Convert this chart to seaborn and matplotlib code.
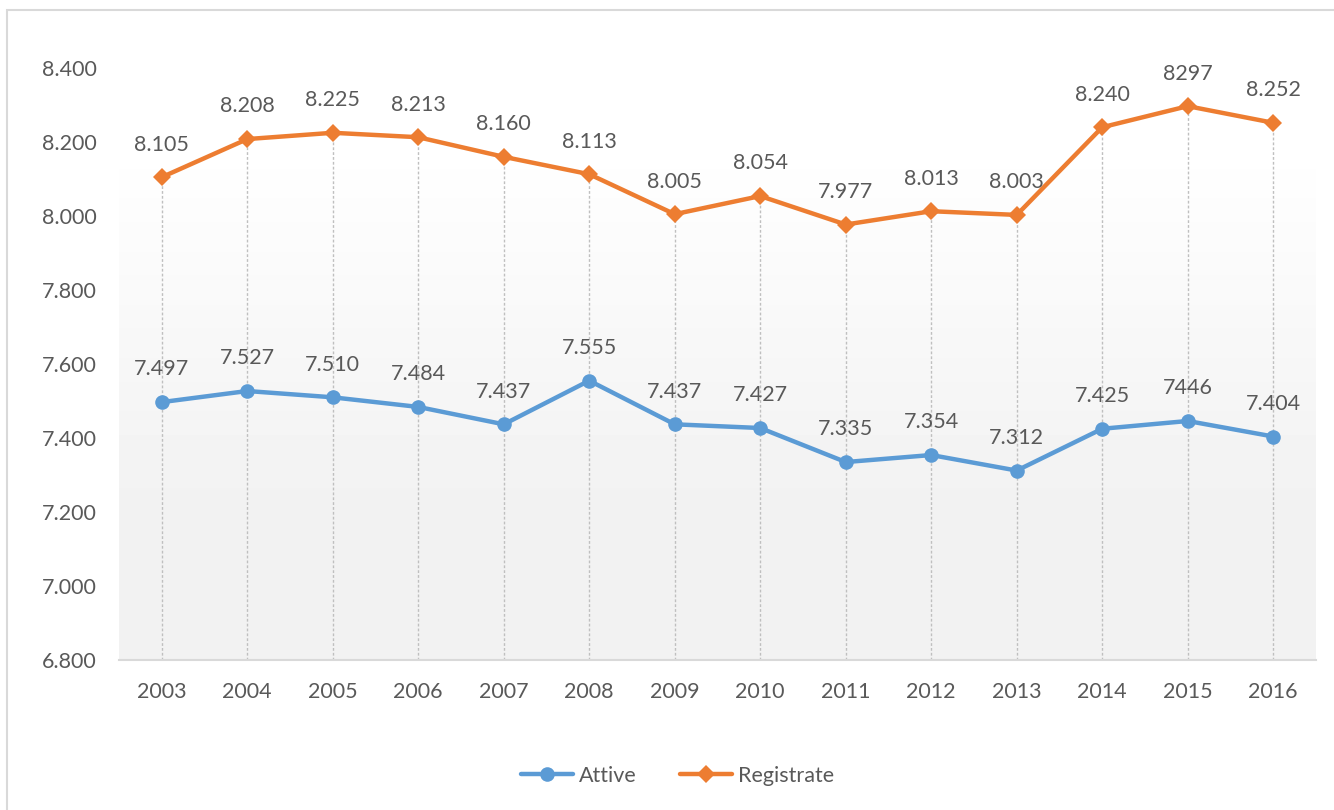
import numpy as np
import pandas as pd
import matplotlib
matplotlib.use("Agg")
import matplotlib.pyplot as plt
from matplotlib.patches import Rectangle
import seaborn as sns

# DATA
years = [2003, 2004, 2005, 2006, 2007, 2008, 2009, 2010, 2011, 2012, 2013, 2014, 2015, 2016]
attive = [7497, 7527, 7510, 7484, 7437, 7555, 7437, 7427, 7335, 7354, 7312, 7425, 7446, 7404]
registrate = [8105, 8208, 8225, 8213, 8160, 8113, 8005, 8054, 7977, 8013, 8003, 8240, 8297, 8252]
attive_labels = ["7.497", "7.527", "7.510", "7.484", "7.437", "7.555", "7.437", "7.427",
                 "7.335", "7.354", "7.312", "7.425", "7446", "7.404"]
registrate_labels = ["8.105", "8.208", "8.225", "8.213", "8.160", "8.113", "8.005", "8.054",
                     "7.977", "8.013", "8.003", "8.240", "8297", "8.252"]
y_ticks = [6800, 7000, 7200, 7400, 7600, 7800, 8000, 8200, 8400]

df = pd.DataFrame({"Anno": years, "Attive": attive, "Registrate": registrate})

sns.set_style("white")
plt.rcParams['font.family'] = ['Lato', 'DejaVu Sans']
text_col = "#595959"
blue = "#5B9BD5"
orange = "#ED7D31"
fs = 15.5

fig = plt.figure(figsize=(13.34, 8.10), dpi=100)
ax = fig.add_axes([0.0892, 0.1852, 0.8973, 0.7308])

# chart border
fig.patches.append(Rectangle((7 / 1334, -0.01), 1.1, 1 - 10 / 810 + 0.01, transform=fig.transFigure,
                             fill=False, edgecolor="#d9d9d9", linewidth=1.5))

# gradient background of the plot area (white on top, light gray below)
grad = np.concatenate([np.full(12, 1.0), np.linspace(1.0, 0.949, 60), np.full(28, 0.949)])
img = np.tile(grad[:, None], (1, 2))
ax.imshow(img, cmap="gray", vmin=0, vmax=1, extent=[2002.5, 2016.5, 6800, 8400],
          aspect="auto", zorder=0, origin="upper")

# drop lines
ax.vlines(df["Anno"], 6800, df[["Attive", "Registrate"]].max(axis=1), colors="#bfbfbf",
          linestyles=(0, (2, 1.5)), linewidth=1, zorder=1)

sns.lineplot(data=df, x="Anno", y="Attive", ax=ax, color=blue, linewidth=3.2, marker="o",
             markersize=10.5, markeredgewidth=0, label="Attive", zorder=3)
sns.lineplot(data=df, x="Anno", y="Registrate", ax=ax, color=orange, linewidth=3.2, marker="D",
             markersize=9.5, markeredgewidth=0, label="Registrate", zorder=3)

for x, y, t in zip(years, attive, attive_labels):
    ax.annotate(t, (x, y), xytext=(0, 23.5), textcoords="offset points", ha="center",
                va="center", fontsize=fs, color=text_col)
for x, y, t in zip(years, registrate, registrate_labels):
    ax.annotate(t, (x, y), xytext=(0, 23.5), textcoords="offset points", ha="center",
                va="center", fontsize=fs, color=text_col)

ax.set_xlim(2002.5, 2016.5)
ax.set_ylim(6800, 8400)
ax.set_xticks(years)
ax.set_xticklabels([str(y) for y in years])
ax.set_yticks(y_ticks)
ax.set_yticklabels([f"{v // 1000}.{v % 1000:03d}" for v in y_ticks])
ax.tick_params(axis="both", length=0, labelsize=fs, colors=text_col)
ax.tick_params(axis="x", pad=16)
ax.tick_params(axis="y", pad=16)
ax.set_xlabel("")
ax.set_ylabel("")
for s in ["top", "right", "left"]:
    ax.spines[s].set_visible(False)
ax.spines["bottom"].set_color("#d9d9d9")
ax.spines["bottom"].set_linewidth(1.5)

leg = ax.legend(loc="center", bbox_to_anchor=(0.508, 0.042), bbox_transform=fig.transFigure,
                ncol=2, frameon=False, fontsize=fs, handlelength=2.4, columnspacing=2.0,
                handletextpad=0.3)
for t in leg.get_texts():
    t.set_color(text_col)

fig.savefig("out.png", dpi=100)
